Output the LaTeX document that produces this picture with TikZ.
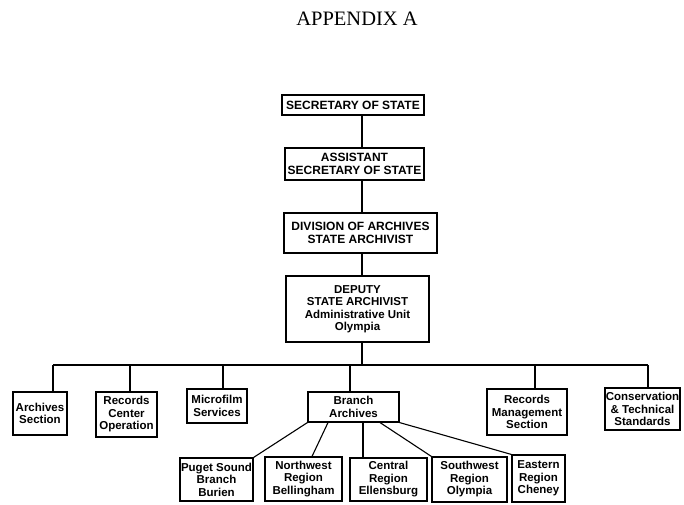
\documentclass[tikz,border=0pt]{standalone}
\usepackage{fontspec}
\setmainfont{Liberation Serif}
\newfontfamily\orgfont{Liberation Sans}
\usepackage{tikz}
\usetikzlibrary{positioning,calc}

\tikzset{
	orgbox/.style={draw, line width=1.1pt, inner sep=0pt, align=center,
		font=\orgfont\bfseries\fontsize{11.5}{12.5}\selectfont},
	capsbox/.style={orgbox, font=\orgfont\bfseries\fontsize{12}{12.5}\selectfont},
	link/.style={line width=1.1pt},
}

\begin{document}
\begin{tikzpicture}[x=1pt,y=-1pt]
	\useasboundingbox (0,0) rectangle (684,504);
	\node (title) at (357,19) {\fontsize{20.5}{22}\selectfont APPENDIX A};
	% top chain
	\node [capsbox, minimum width=142pt, minimum height=20pt] (sec) at (353,105) {SECRETARY OF STATE};
	\node [capsbox, minimum width=139pt, minimum height=32pt] (asst) at (354.5,164) {ASSISTANT\\SECRETARY OF STATE};
	\node [capsbox, minimum width=153pt, minimum height=40pt] (div) at (360.5,233) {DIVISION OF ARCHIVES\\STATE ARCHIVIST};
	\node [orgbox, minimum width=143pt, minimum height=66pt] (dep) at (357.5,309) {DEPUTY\\STATE ARCHIVIST\\Administrative Unit\\Olympia};
	\coordinate (bus) at (362,365);
	\coordinate (busL) at (53,365);
	\coordinate (busR) at (648,365);
	\draw [link] (sec.south -| bus) -- (asst.north -| bus);
	\draw [link] (asst.south -| bus) -- (div.north -| bus);
	\draw [link] (div.south -| bus) -- (dep.north -| bus);
	\draw [link] (dep.south -| bus) -- (bus);
	\draw [link] (busL) -- (busR);
	% sections
	\node [orgbox, minimum width=54pt, minimum height=43pt] (arch) at (40,413.5) {Archives\\Section};
	\node [orgbox, minimum width=61pt, minimum height=45pt] (rcop) at (126.5,414.5) {Records\\Center\\Operation};
	\node [orgbox, minimum width=60pt, minimum height=34pt] (micro) at (217,406) {Microfilm\\Services};
	\node [orgbox, minimum width=91pt, minimum height=30pt] (branch) at (353.5,407) {Branch\\Archives};
	\node [orgbox, minimum width=80pt, minimum height=46pt] (rms) at (527,412) {Records\\Management\\Section};
	\node [orgbox, minimum width=75pt, minimum height=42pt] (cons) at (642.5,409) {Conservation\\\& Technical\\Standards};
	\draw [link] (busL) -- (busL |- arch.north);
	\draw [link] (bus -| 130,0) -- (rcop.north -| 130,0);
	\draw [link] (bus -| 223,0) -- (micro.north -| 223,0);
	\draw [link] (bus -| branch.north) ++(-3.5,0) -- ([xshift=-3.5pt]branch.north);
	\draw [link] (bus -| 535,0) -- (rms.north -| 535,0);
	\draw [link] (busR) -- (busR |- cons.north);
	% branches
	\node [orgbox, minimum width=73pt, minimum height=43pt] (puget) at (216.5,479.5) {Puget Sound\\Branch\\Burien};
	\node [orgbox, minimum width=77pt, minimum height=44pt] (nw) at (303.5,479) {Northwest\\Region\\Bellingham};
	\node [orgbox, minimum width=77pt, minimum height=43pt] (central) at (388.5,479.5) {Central\\Region\\Ellensburg};
	\node [orgbox, minimum width=75pt, minimum height=45pt] (sw) at (469.5,479.5) {Southwest\\Region\\Olympia};
	\node [orgbox, minimum width=53pt, minimum height=47pt] (east) at (538.5,478.5) {Eastern\\Region\\Cheney};
	\draw [link] (branch.south west) -- (puget.north east);
	\draw [link] ([xshift=-25.5pt]branch.south) -- ([xshift=8.5pt]nw.north);
	\draw [link] ([xshift=9.5pt]branch.south) -- ([xshift=9.5pt]branch.south |- central.north);
	\draw [link] ([xshift=26.5pt]branch.south) -- (sw.north west);
	\draw [link] (branch.south east) -- (east.north west);
\end{tikzpicture}
\end{document}
